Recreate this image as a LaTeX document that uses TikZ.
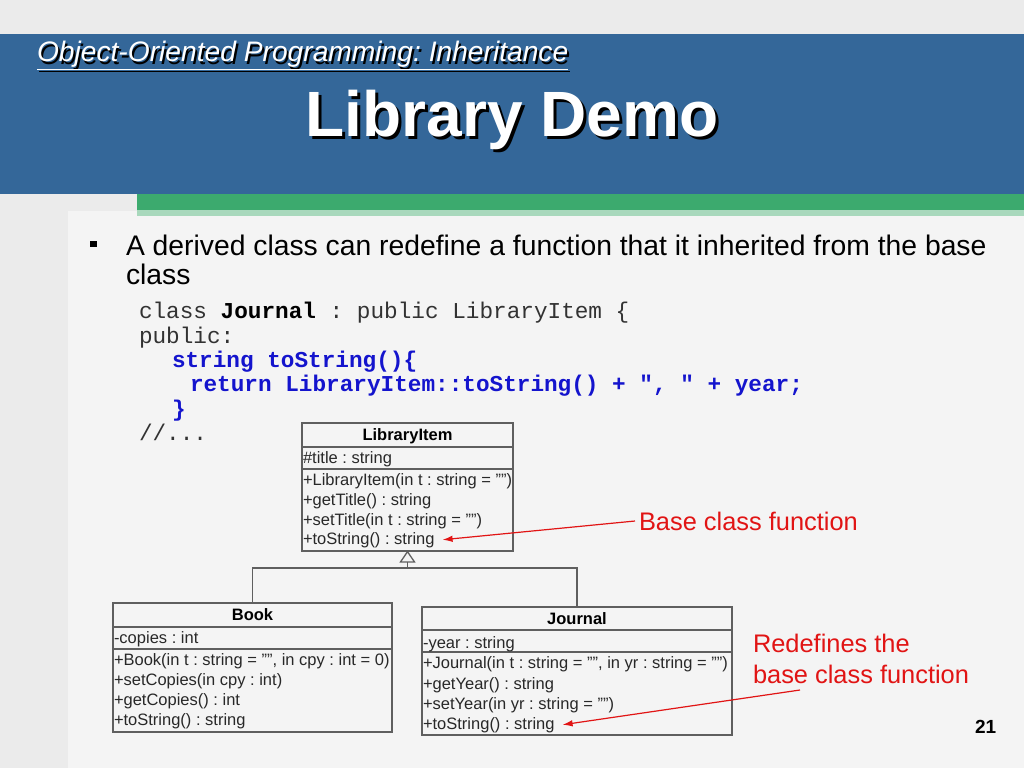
\documentclass[tikz,border=0pt]{standalone}
\usepackage{fontspec}
\setmainfont{Liberation Sans}
\setmonofont{Liberation Mono}
\usetikzlibrary{arrows.meta}
\frenchspacing
\definecolor{bgray}{RGB}{235,235,235}
\definecolor{panel}{RGB}{244,244,244}
\definecolor{band}{RGB}{52,103,153}
\definecolor{grn}{RGB}{60,170,110}
\definecolor{lgrn}{RGB}{168,216,188}
\definecolor{codeblue}{RGB}{20,20,205}
\definecolor{annot}{RGB}{225,20,20}
\definecolor{umlgray}{RGB}{95,95,95}
\definecolor{umltext}{RGB}{40,40,40}
\definecolor{codegray}{RGB}{50,50,50}
\tikzset{
  txt/.style={inner sep=0pt, outer sep=0pt, anchor=base west},
  umltxt/.style={txt, font=\fontsize{16.5}{20}\selectfont, text=umltext},
  umlhead/.style={inner sep=0pt, anchor=base, font=\bfseries\fontsize{16.5}{20}\selectfont, text=black},
  umlbox/.style={draw=umlgray, line width=1.3pt, inner sep=0pt},
  umlsep/.style={draw=umlgray, line width=1.3pt},
  umlline/.style={draw=umlgray, line width=1.3pt},
  codetxt/.style={txt, font=\ttfamily\fontsize{22.7}{26}\selectfont, text=codegray},
  codeblue/.style={txt, font=\ttfamily\bfseries\fontsize{22.7}{26}\selectfont, text=codeblue},
  annotxt/.style={txt, text=annot, font=\fontsize{25.4}{30}\selectfont},
  redarrow/.style={draw=annot, line width=1.2pt, -{Latex[length=10pt,width=6.5pt]}},
  bodytxt/.style={txt, font=\fontsize{28.3}{34}\selectfont, text=black},
}
\begin{document}
\begin{tikzpicture}[x=1pt,y=-1pt]
\useasboundingbox (0,0) rectangle (1024,768);
% backgrounds
\fill[bgray] (0,0) rectangle (1024,768);
\fill[panel] (68,211) rectangle (1024,768);
\fill[band] (0,34) rectangle (1024,194);
\fill[grn] (137,194) rectangle (1024,210);
\fill[lgrn] (137,210) rectangle (1024,216);
% header texts
\node[txt, font=\itshape\fontsize{28.2}{34}\selectfont, text=black] (subsh) at (39,64) {\underline{Object-Oriented Programming: Inheritance}};
\node[txt, font=\itshape\fontsize{28.2}{34}\selectfont, text=white] (sub) at (37,62) {\underline{Object-Oriented Programming: Inheritance}};
\node[inner sep=0pt, anchor=base, font=\bfseries\fontsize{64}{72}\selectfont, text=black] (titlesh) at (515,139) {Library Demo};
\node[inner sep=0pt, anchor=base, font=\bfseries\fontsize{64}{72}\selectfont, text=white] (title) at (512,136) {Library Demo};
% bullet
\node[fill=black, minimum width=7pt, minimum height=6.5pt, inner sep=0pt] (bul) at (93.5,244) {};
\node[bodytxt] (b1) at (126,255) {A derived class can redefine a function that it inherited from the base};
\node[bodytxt] (b2) at (126,284) {class};
% code
\node[codetxt] (c1) at (139,318) {class \textbf{\color{black}Journal} : public LibraryItem \{};
\node[codetxt] (c2) at (139,343) {public:};
\node[codeblue] (c3) at (172,367) {string toString()\{};
\node[codeblue] (c4) at (190,391) {return LibraryItem::toString() + ", " + year;};
\node[codeblue] (c5) at (172,416) {\}};
\node[codetxt] (c6) at (139,440) {//...};
% LibraryItem box
\node[umlbox, minimum width=211pt, minimum height=128pt] (li) at (407.5,487) {};
\draw[umlsep] (302,447) -- (513,447);
\draw[umlsep] (302,469) -- (513,469);
\node[umlhead] (lih) at (407.5,440) {LibraryItem};
\node[umltxt] (lia) at (303,463) {\#title : string};
\node[umltxt] (lio1) at (303,485) {+LibraryItem(in t : string = "")};
\node[umltxt] (lio2) at (303,505) {+getTitle() : string};
\node[umltxt] (lio3) at (303,525) {+setTitle(in t : string = "")};
\node[umltxt] (lio4) at (303,544) {+toString() : string};
% Book box
\node[umlbox, minimum width=279pt, minimum height=129pt] (book) at (252.5,667.5) {};
\draw[umlsep] (113,627) -- (392,627);
\draw[umlsep] (113,649) -- (392,649);
\node[umlhead] (bookh) at (252.5,620) {Book};
\node[umltxt] (booka) at (114,643) {-copies : int};
\node[umltxt] (booko1) at (114,665) {+Book(in t : string = "", in cpy : int = 0)};
\node[umltxt] (booko2) at (114,685) {+setCopies(in cpy : int)};
\node[umltxt] (booko3) at (114,705) {+getCopies() : int};
\node[umltxt] (booko4) at (114,725) {+toString() : string};
% Journal box
\node[umlbox, minimum width=310pt, minimum height=128pt] (jr) at (577,671) {};
\draw[umlsep] (422,630) -- (732,630);
\draw[umlsep] (422,652) -- (732,652);
\node[umlhead] (jrh) at (577,624) {Journal};
\node[umltxt] (jra) at (423,648) {-year : string};
\node[umltxt] (jro1) at (423,668) {+Journal(in t : string = "", in yr : string = "")};
\node[umltxt] (jro2) at (423,689) {+getYear() : string};
\node[umltxt] (jro3) at (423,709) {+setYear(in yr : string = "")};
\node[umltxt] (jro4) at (423,729) {+toString() : string};
% inheritance
\coordinate (trib) at (407.5,562);
\coordinate (junc) at (407.5,568);
\draw[umlline, fill=panel, line join=miter] (li.south) -- (400.5,562) -- (414.5,562) -- cycle;
\draw[umlline] (trib) -- (junc);
\draw[umlline] (book.north) |- (junc) -| (jr.north);
% annotations
\node[annotxt] (bcf) at (639,530) {Base class function};
\node[annotxt] (rd1) at (753,652) {Redefines the};
\node[annotxt] (rd2) at (753,683) {base class function};
\coordinate (bcfs) at (635,521);
\coordinate (rds) at (800,690);
\draw[redarrow] (bcfs) -- ([xshift=8pt]lio4.east);
\draw[redarrow] (rds) -- ([xshift=8pt]jro4.east);
% page number
\node[txt, font=\bfseries\fontsize{19}{22}\selectfont, text=black] (pg) at (975,733) {21};
\end{tikzpicture}
\end{document}
